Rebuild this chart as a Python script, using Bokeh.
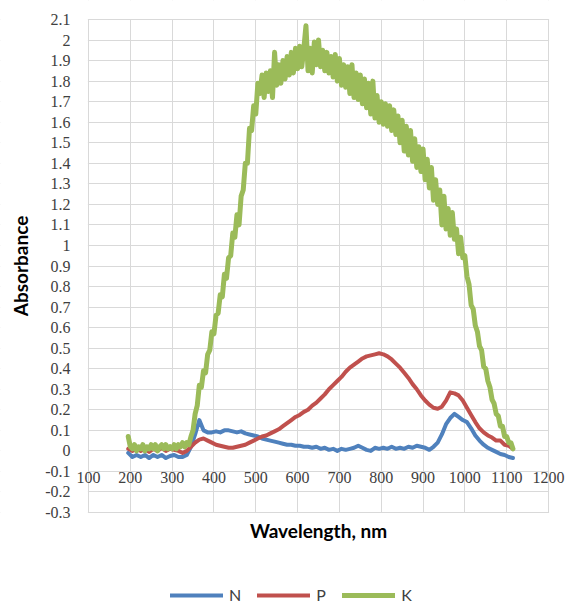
import math
from bokeh.plotting import figure
from bokeh.models import (Range1d, FixedTicker, Legend, LegendItem, LabelSet, Label,
                          ColumnDataSource, BoxAnnotation)
from bokeh.embed import file_html
from bokeh.resources import INLINE

# ---------------- data ----------------
wl_k = [195, 200, 205, 210, 215, 220, 225, 230, 235, 240, 245, 250, 255, 260, 265, 270, 275, 280, 285, 290,
        295, 300, 305, 310, 315, 320, 325, 330, 335, 340, 345, 350, 355, 360, 365, 370, 375, 380, 385, 390,
        395, 400, 405, 410, 415, 420, 425, 430, 435, 440, 445, 450, 455, 460, 465, 470, 475, 480, 485, 490,
        495, 500, 505, 510, 515, 520, 525, 530, 535, 540, 545, 550, 555, 560, 565, 570, 575, 580, 585, 590,
        595, 600, 605, 610, 615, 620, 625, 630, 635, 640, 645, 650, 655, 660, 665, 670, 675, 680, 685, 690,
        695, 700, 705, 710, 715, 720, 725, 730, 735, 740, 745, 750, 755, 760, 765, 770, 775, 780, 785, 790,
        795, 800, 805, 810, 815, 820, 825, 830, 835, 840, 845, 850, 855, 860, 865, 870, 875, 880, 885, 890,
        895, 900, 905, 910, 915, 920, 925, 930, 935, 940, 945, 950, 955, 960, 965, 970, 975, 980, 985, 990,
        995, 1000, 1005, 1010, 1015, 1020, 1025, 1030, 1035, 1040, 1045, 1050, 1055, 1060, 1065, 1070, 1075,
        1080, 1085, 1090, 1095, 1100, 1105, 1110, 1115]
K = [0.07, 0.02, 0.01, 0.03, 0.00, 0.02, 0.01, 0.03, 0.00, 0.02, 0.01, 0.03, 0.01, 0.03, 0.00, 0.02, 0.03, 0.01, 0.03, 0.01,
     0.02, 0.01, 0.03, 0.01, 0.03, 0.02, 0.04, 0.02, 0.04, 0.03, 0.07, 0.10, 0.18, 0.22, 0.32, 0.31, 0.39, 0.38, 0.47, 0.49,
     0.58, 0.57, 0.66, 0.67, 0.76, 0.75, 0.86, 0.84, 0.94, 0.95, 1.06, 1.04, 1.15, 1.10, 1.24, 1.27, 1.40, 1.40, 1.57, 1.56,
     1.68, 1.64, 1.79, 1.74, 1.83, 1.72, 1.84, 1.75, 1.85, 1.72, 1.94, 1.78, 1.88, 1.79, 1.90, 1.81, 1.92, 1.83, 1.94, 1.84,
     1.96, 1.86, 1.97, 1.87, 1.96, 2.07, 1.85, 1.96, 1.84, 1.99, 1.88, 2.00, 1.87, 1.95, 1.85, 1.94, 1.84, 1.92, 1.82, 1.93,
     1.80, 1.91, 1.78, 1.88, 1.77, 1.87, 1.74, 1.88, 1.72, 1.84, 1.71, 1.83, 1.69, 1.81, 1.67, 1.79, 1.64, 1.80, 1.62, 1.73,
     1.60, 1.70, 1.59, 1.69, 1.58, 1.68, 1.56, 1.66, 1.54, 1.63, 1.50, 1.61, 1.46, 1.58, 1.44, 1.56, 1.41, 1.52, 1.38, 1.48,
     1.36, 1.47, 1.32, 1.42, 1.28, 1.38, 1.22, 1.32, 1.20, 1.27, 1.10, 1.24, 1.08, 1.18, 1.05, 1.16, 1.03, 1.08, 0.96, 1.04,
     0.94, 0.95, 0.85, 0.81, 0.71, 0.69, 0.61, 0.58, 0.51, 0.49, 0.41, 0.40, 0.34, 0.31, 0.25, 0.23, 0.18,
     0.17, 0.12, 0.12, 0.07, 0.07, 0.04, 0.04, 0.01]

wl_np = [195, 205, 215, 225, 235, 245, 255, 265, 275, 285, 295, 305, 315, 325, 335, 345, 355, 365, 375, 385,
         395, 405, 415, 425, 435, 445, 455, 465, 475, 485, 495, 505, 515, 525, 535, 545, 555, 565, 575, 585,
         595, 605, 615, 625, 635, 645, 655, 665, 675, 685, 695, 705, 715, 725, 735, 745, 755, 765, 775, 785,
         795, 805, 815, 825, 835, 845, 855, 865, 875, 885, 895, 905, 915, 925, 935, 945, 955, 965, 975, 985,
         995, 1005, 1015, 1025, 1035, 1045, 1055, 1065, 1075, 1085, 1095, 1105, 1115]
N = [-0.01, -0.03, -0.02, -0.03, -0.02, -0.035, -0.02, -0.03, -0.02, -0.035, -0.025, -0.02, -0.03, -0.03, -0.02, 0.02, 0.08, 0.15, 0.10, 0.09,
     0.09, 0.095, 0.09, 0.10, 0.10, 0.095, 0.09, 0.095, 0.085, 0.08, 0.075, 0.07, 0.06, 0.055, 0.05, 0.045, 0.04, 0.035, 0.03, 0.03,
     0.025, 0.025, 0.02, 0.02, 0.015, 0.02, 0.01, 0.015, 0.005, 0.01, 0.0, 0.01, 0.005, 0.01, 0.015, 0.025, 0.015, 0.005, 0.0, 0.015,
     0.01, 0.015, 0.01, 0.02, 0.01, 0.015, 0.01, 0.02, 0.015, 0.025, 0.02, 0.015, 0.005, 0.02, 0.04, 0.08, 0.13, 0.16, 0.18, 0.165,
     0.15, 0.14, 0.11, 0.075, 0.05, 0.03, 0.015, 0.005, -0.005, -0.015, -0.02, -0.03, -0.035]
P = [0.01, 0.00, 0.01, 0.00, 0.01, -0.005, 0.01, 0.00, 0.015, 0.00, 0.01, 0.005, 0.00, -0.01, 0.00, 0.02, 0.04, 0.055, 0.06, 0.05,
     0.04, 0.03, 0.025, 0.02, 0.015, 0.015, 0.02, 0.025, 0.03, 0.04, 0.05, 0.06, 0.07, 0.075, 0.085, 0.095, 0.105, 0.12, 0.135, 0.15,
     0.165, 0.175, 0.19, 0.20, 0.22, 0.235, 0.255, 0.275, 0.30, 0.32, 0.34, 0.36, 0.385, 0.405, 0.42, 0.435, 0.45, 0.46, 0.465, 0.47,
     0.475, 0.47, 0.46, 0.445, 0.425, 0.405, 0.38, 0.355, 0.325, 0.30, 0.27, 0.245, 0.225, 0.21, 0.205, 0.215, 0.245, 0.285, 0.28, 0.27,
     0.245, 0.21, 0.175, 0.14, 0.11, 0.09, 0.075, 0.065, 0.05, 0.05, 0.03, 0.025, 0.01]

x_ticks = [100, 200, 300, 400, 500, 600, 700, 800, 900, 1000, 1100, 1200]
x_tick_labels = ["100", "200", "300", "400", "500", "600", "700", "800", "900", "1000", "1100", "1200"]
y_ticks = [-0.3, -0.2, -0.1, 0.0, 0.1, 0.2, 0.3, 0.4, 0.5, 0.6, 0.7, 0.8, 0.9, 1.0, 1.1, 1.2,
           1.3, 1.4, 1.5, 1.6, 1.7, 1.8, 1.9, 2.0, 2.1]
y_tick_labels = ["-0.3", "-0.2", "-0.1", "0", "0.1", "0.2", "0.3", "0.4", "0.5", "0.6", "0.7", "0.8", "0.9", "1",
                 "1.1", "1.2", "1.3", "1.4", "1.5", "1.6", "1.7", "1.8", "1.9", "2", "2.1"]

FONT = "Lato"
TXT = "#404040"
GRID = "#d9d9d9"
W, H = 566, 605

# plot area (100..1200 x -0.3..2.1) occupies pixels 88..548 x 19..512 of the canvas;
# the frame covers the whole canvas so that every text can be drawn inside it
xmin, xmax, ymin, ymax = x_ticks[0], x_ticks[-1], y_ticks[0], y_ticks[-1]
L, R, T, B = 88, 548, 19, 512
kx = (xmax - xmin) / (R - L)
ky = (ymax - ymin) / (B - T)
x_range = Range1d(xmin - L * kx, xmax + (W - R) * kx)
y_range = Range1d(ymin - (H - B) * ky, ymax + T * ky)

p = figure(width=W, height=H, output_backend="svg", toolbar_location=None,
           x_range=x_range, y_range=y_range,
           min_border=0, min_border_left=0, min_border_right=0, min_border_top=0, min_border_bottom=0)
p.xaxis.visible = False
p.yaxis.visible = False
p.outline_line_color = None
p.background_fill_color = "white"
p.border_fill_color = "white"

# grids
p.xgrid.ticker = FixedTicker(ticks=x_ticks)
p.ygrid.ticker = FixedTicker(ticks=y_ticks)
for g in (p.xgrid, p.ygrid):
    g.grid_line_color = GRID
    g.grid_line_width = 1

# mask the grid lines outside the plot area
m = 0.6
for box in (BoxAnnotation(right=xmin - m * kx), BoxAnnotation(left=xmax + m * kx),
            BoxAnnotation(top=ymin - m * ky), BoxAnnotation(bottom=ymax + m * ky)):
    box.fill_color = "white"
    box.fill_alpha = 1
    box.line_color = None
    box.level = "underlay"
    p.add_layout(box)

# y tick labels
src_y = ColumnDataSource(dict(x=[xmin] * len(y_ticks), y=y_ticks, text=y_tick_labels))
p.add_layout(LabelSet(x="x", y="y", text="text", source=src_y, text_align="right",
                      text_baseline="middle", x_offset=-18, text_font=FONT,
                      text_font_size="16px", text_color=TXT))

# x tick labels along y = 0
src_x = ColumnDataSource(dict(x=x_ticks, y=[0] * len(x_ticks), text=x_tick_labels))
p.add_layout(LabelSet(x="x", y="y", text="text", source=src_x, text_align="center",
                      text_baseline="middle", y_offset=-27, text_font=FONT,
                      text_font_size="16px", text_color=TXT))

# axis titles
p.add_layout(Label(x=(xmin + xmax) / 2, y=ymin, y_offset=-18, text="Wavelength, nm",
                   text_align="center", text_baseline="middle", text_font=FONT,
                   text_font_size="19px", text_font_style="bold", text_color="black"))
p.add_layout(Label(x=xmin, y=(ymin + ymax) / 2, x_offset=-68, text="Absorbance", angle=math.pi / 2,
                   text_align="center", text_baseline="middle", text_font=FONT,
                   text_font_size="19px", text_font_style="bold", text_color="black"))

# series
rN = p.line(wl_np, N, line_color="#4F81BD", line_width=4, line_join="round", line_cap="round")
rP = p.line(wl_np, P, line_color="#C0504D", line_width=4, line_join="round", line_cap="round")
rK = p.line(wl_k, K, line_color="#9BBB59", line_width=5, line_join="round", line_cap="round")

legend = Legend(items=[LegendItem(label="N", renderers=[rN]),
                       LegendItem(label="P", renderers=[rP]),
                       LegendItem(label="K", renderers=[rK])],
                orientation="horizontal", location=(170, 1),
                border_line_color=None, background_fill_alpha=0,
                label_text_font=FONT, label_text_font_size="16px", label_text_color=TXT,
                glyph_width=53, glyph_height=18, spacing=16, label_standoff=6,
                label_width=10, padding=0, margin=0)
p.add_layout(legend)

open("out.html", "w").write(file_html(p, INLINE))
